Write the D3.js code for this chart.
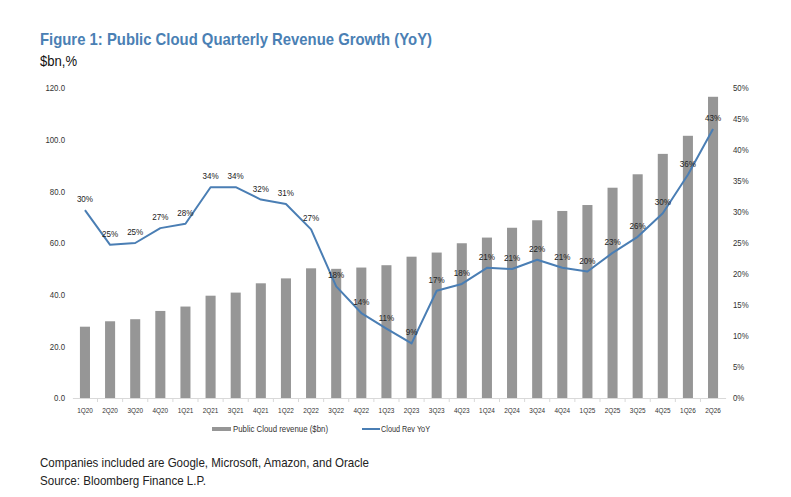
<!DOCTYPE html>
<html>
<head>
<meta charset="utf-8">
<script src="https://cdn.jsdelivr.net/npm/d3@7"></script>
<style>
  body { margin: 0; background: #fff; }
  text { font-family: "Liberation Sans", Arial, sans-serif; }
</style>
</head>
<body>
<div id="chart"></div>
<script>
// quarters on the x axis
var quarters = ["1Q20", "2Q20", "3Q20", "4Q20", "1Q21", "2Q21", "3Q21", "4Q21", "1Q22", "2Q22",
  "3Q22", "4Q22", "1Q23", "2Q23", "3Q23", "4Q23", "1Q24", "2Q24", "3Q24", "4Q24",
  "1Q25", "2Q25", "3Q25", "4Q25", "1Q26", "2Q26"];
// public cloud revenue, $bn (bars, left axis)
var revenue = [27.6, 29.7, 30.5, 33.7, 35.4, 39.6, 40.8, 44.4, 46.3, 50.2,
  50.0, 50.5, 51.4, 54.7, 56.3, 59.9, 62.1, 65.9, 68.8, 72.4,
  74.7, 81.4, 86.6, 94.5, 101.5, 116.6];
// cloud revenue YoY growth, % (line, right axis)
var yoy = [30.3, 24.7, 25.0, 27.4, 28.1, 34.0, 34.0, 32.0, 31.3, 27.2,
  18.0, 13.7, 11.2, 8.8, 17.3, 18.4, 21.0, 20.8, 22.3, 21.0,
  20.4, 23.4, 26.0, 29.8, 36.0, 43.4];
var leftTicks = [0, 20, 40, 60, 80, 100, 120];
var rightTicks = [0, 5, 10, 15, 20, 25, 30, 35, 40, 45, 50];

var W = 791, H = 497;
var barColor = "#969696", lineColor = "#4a7eb4", titleColor = "#4a80b4";

// no narrow font installed, so squeeze the text a bit like Arial Narrow
function squeeze(sel, k) {
  sel.each(function () {
    var w = this.getComputedTextLength();
    d3.select(this).attr("textLength", w * k).attr("lengthAdjust", "spacingAndGlyphs");
  });
}
function fitTo(sel, w) {
  sel.attr("textLength", w).attr("lengthAdjust", "spacingAndGlyphs");
}

var svg = d3.select("#chart").append("svg")
  .attr("width", W).attr("height", H);

var x = d3.scaleBand().domain(quarters).range([72.4, 725.6]);
var yL = d3.scaleLinear().domain([0, 120]).range([398, 88]);
var yR = d3.scaleLinear().domain([0, 50]).range([398, 88]);
var cx = function (q) { return x(q) + x.bandwidth() / 2; };
var barW = x.bandwidth() * 0.4;

// title + unit
svg.append("text").attr("x", 40).attr("y", 45)
  .attr("font-size", 17).attr("font-weight", "bold").attr("fill", titleColor)
  .text("Figure 1: Public Cloud Quarterly Revenue Growth (YoY)")
  .call(fitTo, 392);
svg.append("text").attr("x", 40).attr("y", 66)
  .attr("font-size", 15).attr("fill", "#111")
  .text("$bn,%")
  .call(fitTo, 37);

// bars
svg.append("g").selectAll("rect")
  .data(revenue)
  .enter()
  .append("rect")
  .attr("x", (d, i) => cx(quarters[i]) - barW / 2)
  .attr("y", d => yL(d))
  .attr("width", barW)
  .attr("height", d => yL(0) - yL(d))
  .attr("fill", barColor);

// x axis
var xAxis = svg.append("g")
  .attr("transform", "translate(0," + yL(0) + ")")
  .call(d3.axisBottom(x).tickSize(0).tickPadding(9));
xAxis.select(".domain").attr("stroke", "#d9d9d9");
xAxis.selectAll("text").attr("font-size", 8).attr("fill", "#333")
  .attr("font-family", "'Liberation Sans', Arial, sans-serif")
  .call(squeeze, 0.8);
xAxis.selectAll(".sep")
  .data(quarters.slice(1))
  .enter()
  .append("line")
  .attr("class", "sep")
  .attr("x1", d => x(d)).attr("x2", d => x(d))
  .attr("y1", 0).attr("y2", 4)
  .attr("stroke", "#d9d9d9");

// left axis
var axL = svg.append("g")
  .attr("transform", "translate(67,0)")
  .call(d3.axisLeft(yL).tickValues(leftTicks).tickSize(0).tickPadding(2).tickFormat(d3.format(".1f")));
axL.select(".domain").remove();
axL.selectAll("text").attr("font-size", 8.5).attr("fill", "#333")
  .attr("font-family", "'Liberation Sans', Arial, sans-serif")
  .call(squeeze, 0.92);

// right axis
var axR = svg.append("g")
  .attr("transform", "translate(731,0)")
  .call(d3.axisRight(yR).tickValues(rightTicks).tickSize(0).tickPadding(2).tickFormat(d => d + "%"));
axR.select(".domain").remove();
axR.selectAll("text").attr("font-size", 8.5).attr("fill", "#333")
  .attr("font-family", "'Liberation Sans', Arial, sans-serif")
  .call(squeeze, 0.92);

// YoY line
var line = d3.line()
  .x((d, i) => cx(quarters[i]))
  .y(d => yR(d));
svg.append("path")
  .datum(yoy)
  .attr("d", line)
  .attr("fill", "none")
  .attr("stroke", lineColor)
  .attr("stroke-width", 2)
  .attr("stroke-linejoin", "round");

// data labels
svg.append("g").selectAll("text")
  .data(yoy)
  .enter()
  .append("text")
  .attr("x", (d, i) => cx(quarters[i]))
  .attr("y", d => yR(d) - 8)
  .attr("text-anchor", "middle")
  .attr("font-size", 9.5)
  .attr("fill", "#222")
  .text(d => d3.format(".0f")(d) + "%")
  .call(squeeze, 0.85);

// legend
var leg = svg.append("g");
leg.append("rect").attr("x", 212).attr("y", 427).attr("width", 19).attr("height", 4).attr("fill", barColor);
leg.append("text").attr("x", 233).attr("y", 432).attr("font-size", 8.5).attr("fill", "#333")
  .text("Public Cloud revenue ($bn)")
  .call(fitTo, 95);
leg.append("line").attr("x1", 362).attr("x2", 380).attr("y1", 429).attr("y2", 429)
  .attr("stroke", lineColor).attr("stroke-width", 2);
leg.append("text").attr("x", 381).attr("y", 432).attr("font-size", 8.5).attr("fill", "#333")
  .text("Cloud Rev YoY")
  .call(fitTo, 49);

// notes
svg.append("text").attr("x", 40).attr("y", 467).attr("font-size", 13.5).attr("fill", "#222")
  .text("Companies included are Google, Microsoft, Amazon, and Oracle")
  .call(fitTo, 329);
svg.append("text").attr("x", 40).attr("y", 485).attr("font-size", 13.5).attr("fill", "#222")
  .text("Source: Bloomberg Finance L.P.")
  .call(fitTo, 166);
</script>
</body>
</html>
